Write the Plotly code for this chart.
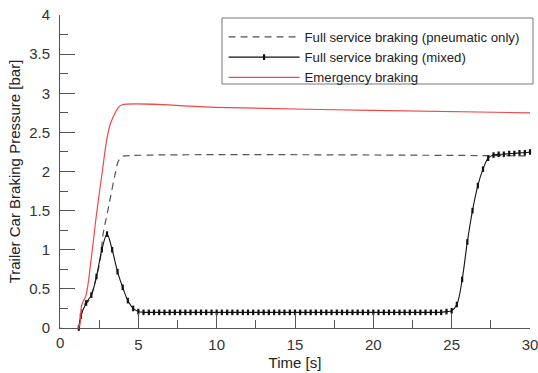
import plotly.graph_objects as go

# Emergency braking (red)
emerg_t = [0, 1.15, 1.38, 1.66, 2.0, 2.34, 2.7, 2.98, 3.2, 3.4, 3.7, 3.94, 10, 20, 30]
emerg_p = [0, 0, 0.29, 0.42, 0.9, 1.47, 2.0, 2.40, 2.6, 2.70, 2.81, 2.85, 2.82, 2.78, 2.75]

# Full service braking (pneumatic only) - dashed
pneu_t = [1.24, 1.49, 1.81, 2.19, 2.55, 2.75, 3.0, 3.2, 3.5, 3.72, 3.95, 4.2, 30]
pneu_p = [0, 0.29, 0.34, 0.55, 0.85, 1.2, 1.45, 1.65, 1.95, 2.13, 2.19, 2.2, 2.2]

# Full service braking (mixed) - solid with markers
mixed_t = [1.2, 1.33, 1.67, 2.0, 2.33, 2.67, 3.0, 3.33, 3.67, 4.0, 4.33, 4.67, 5.0,
           5.33, 5.67, 6.0, 6.33, 6.67, 7.0, 7.33, 7.67, 8.0, 8.33, 8.67, 9.0, 9.33, 9.67,
           10.0, 10.33, 10.67, 11.0, 11.33, 11.67, 12.0, 12.33, 12.67, 13.0, 13.33, 13.67,
           14.0, 14.33, 14.67, 15.0, 15.33, 15.67, 16.0, 16.33, 16.67, 17.0, 17.33, 17.67,
           18.0, 18.33, 18.67, 19.0, 19.33, 19.67, 20.0, 20.33, 20.67, 21.0, 21.33, 21.67,
           22.0, 22.33, 22.67, 23.0, 23.33, 23.67, 24.0, 24.33, 24.67, 25.0,
           25.33, 25.67, 26.0, 26.33, 26.67, 27.0, 27.33, 27.67, 28.0, 28.33, 28.67,
           29.0, 29.33, 29.67, 30.0]
mixed_p = [0, 0.15, 0.32, 0.42, 0.66, 1.0, 1.2, 1.0, 0.72, 0.52, 0.35, 0.25, 0.21,
           0.2, 0.2, 0.2, 0.2, 0.2, 0.2, 0.2, 0.2, 0.2, 0.2, 0.2, 0.2, 0.2, 0.2,
           0.2, 0.2, 0.2, 0.2, 0.2, 0.2, 0.2, 0.2, 0.2, 0.2, 0.2, 0.2,
           0.2, 0.2, 0.2, 0.2, 0.2, 0.2, 0.2, 0.2, 0.2, 0.2, 0.2, 0.2,
           0.2, 0.2, 0.2, 0.2, 0.2, 0.2, 0.2, 0.2, 0.2, 0.2, 0.2, 0.2,
           0.2, 0.2, 0.2, 0.2, 0.2, 0.2, 0.2, 0.2, 0.21, 0.22,
           0.3, 0.62, 1.1, 1.5, 1.82, 2.03, 2.17, 2.21, 2.22, 2.22, 2.23,
           2.23, 2.24, 2.24, 2.25]

x_ticks = [0, 5, 10, 15, 20, 25, 30]
x_labels = ["0", "5", "10", "15", "20", "25", "30"]
y_ticks = [0, 0.5, 1, 1.5, 2, 2.5, 3, 3.5, 4]
y_labels = ["0", "0.5", "1", "1.5", "2", "2.5", "3", "3.5", "4"]

FONT = "Liberation Sans, Arial"
TICKFONT = dict(family=FONT, size=15, color="#333333")

fig = go.Figure()
fig.add_trace(go.Scatter(x=pneu_t, y=pneu_p, mode="lines",
                         name="Full service braking (pneumatic only)",
                         line=dict(color="#555555", width=1.2, dash="7px,5px", shape="spline")))
fig.add_trace(go.Scatter(x=mixed_t, y=mixed_p, mode="lines+markers",
                         name="Full service braking (mixed)",
                         line=dict(color="#111111", width=1.1, shape="spline"),
                         marker=dict(symbol="line-ns", size=4,
                                     line=dict(color="#111111", width=2.2)),
                         cliponaxis=False))
fig.add_trace(go.Scatter(x=emerg_t, y=emerg_p, mode="lines",
                         name="Emergency braking",
                         line=dict(color="#f04848", width=1.2, shape="spline")))

axis_common = dict(showline=True, linecolor="#555555", linewidth=1,
                   ticks="inside", ticklen=15, tickcolor="#555555", tickwidth=1,
                   showgrid=False, zeroline=False, mirror=False, automargin=False,
                   ticklabeloverflow="allow",
                   tickfont=TICKFONT,
                   title_font=dict(family=FONT, size=15, color="#222222"))

# the corner "0" label is drawn as an annotation below (plotly hides it)
fig.update_xaxes(range=[0, 30], tickvals=x_ticks, ticktext=[""] + x_labels[1:],
                 title_text="Time [s]",
                 ticklabelstandoff=3, title_standoff=5,
                 minor=dict(ticks="inside", ticklen=8, dtick=2.5, tick0=0,
                            tickcolor="#555555"), **axis_common)
fig.update_yaxes(range=[0, 4], tickvals=y_ticks, ticktext=y_labels,
                 ticklabelstandoff=6,
                 title_text="Trailer Car Braking Pressure [bar]", title_standoff=4,
                 minor=dict(ticks="inside", ticklen=8, dtick=0.25, tick0=0,
                            tickcolor="#555555"), **axis_common)

fig.add_annotation(x=0, y=0, xref="x domain", yref="y domain", text=x_labels[0],
                   showarrow=False, xanchor="center", yanchor="top", yshift=-4,
                   font=TICKFONT)

# legend frame
fig.add_shape(type="rect", xref="paper", yref="paper",
              x0=0.3447, x1=1.0064, y0=0.7796, y1=0.9904,
              line=dict(color="#777777", width=1), fillcolor="white", layer="above")

fig.update_layout(
    width=538, height=373,
    margin=dict(l=60, r=8, t=15, b=45),
    plot_bgcolor="white", paper_bgcolor="white",
    showlegend=True,
    legend=dict(x=0.348, y=0.978, xanchor="left", yanchor="top",
                borderwidth=0, bgcolor="rgba(0,0,0,0)",
                font=dict(family=FONT, size=13.2, color="#222222"),
                itemwidth=71, tracegroupgap=0),
)

fig.write_html("out.html", config={"displayModeBar": False},
               post_script="document.body.style.margin='0';document.body.style.overflow='hidden';")
